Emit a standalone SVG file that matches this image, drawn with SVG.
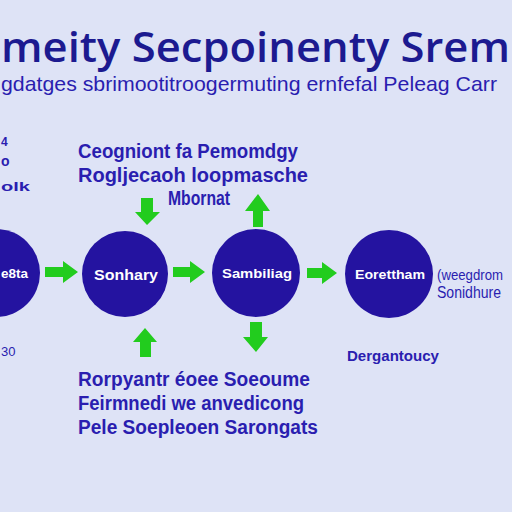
<svg xmlns="http://www.w3.org/2000/svg" width="512" height="512" viewBox="0 0 512 512">
<style>
.bg{fill:#dee3f6}
.t{font-family:"Liberation Sans",Arial,sans-serif;fill:#2a1eb0}
.title{font-family:"Open Sans","Noto Sans",sans-serif;font-weight:600;fill:#1c1a90}
.node{fill:#2413a0}
.nl{font-family:"Liberation Sans",Arial,sans-serif;font-weight:bold;fill:#ffffff}
.arr{fill:#22cc1e}
</style>
<rect class="bg" x="0" y="0" width="512" height="512"/>
<text class="title" x="1" y="62" font-size="42" textLength="509" lengthAdjust="spacingAndGlyphs">meity Secpoinenty Srem</text>
<text class="t" x="1" y="91" font-size="21" textLength="496" lengthAdjust="spacingAndGlyphs">gdatges sbrimootitroogermuting ernfefal Peleag Carr</text>
<text class="t" x="1" y="146" font-size="12" font-weight="bold">4</text>
<text class="t" x="1" y="166" font-size="14" font-weight="bold">o</text>
<text class="t" x="1" y="191" font-size="13" font-weight="bold" textLength="29" lengthAdjust="spacingAndGlyphs">olk</text>
<text class="t" x="78" y="158" font-size="20" font-weight="bold" textLength="220" lengthAdjust="spacingAndGlyphs">Ceogniont fa Pemomdgy</text>
<text class="t" x="78" y="182" font-size="20" font-weight="bold" textLength="230" lengthAdjust="spacingAndGlyphs">Rogljecaoh loopmasche</text>
<text class="t" x="168" y="205" font-size="20" font-weight="bold" textLength="62" lengthAdjust="spacingAndGlyphs">Mbornat</text>
<g id="connectors">
<path class="arr" d="M45,267 H63 V261 L78,272 L63,283 V277 H45 Z"/>
<path class="arr" d="M173,267 H190 V261 L205,272 L190,283 V277 H173 Z"/>
<path class="arr" d="M307,268 H322 V262 L337,273 L322,284 V278 H307 Z"/>
<path class="arr" d="M141,198 H153 V212 H160 L147,225 L135,212 H141 Z"/>
<path class="arr" d="M253,227 V211 H245 L258,194 L270,211 H263 V227 Z"/>
<path class="arr" d="M140,357 V342 H133 L145,328 L157,342 H151 V357 Z"/>
<path class="arr" d="M250,322 H262 V337 H268 L256,352 L243,337 H250 Z"/>
</g>
<g id="node1"><circle class="node" cx="-4" cy="273" r="44"/><text class="nl" x="1" y="278" font-size="13" textLength="27" lengthAdjust="spacingAndGlyphs">e8ta</text></g>
<g id="node2"><circle class="node" cx="125" cy="274" r="43"/><text class="nl" x="126" y="280" font-size="15" text-anchor="middle" textLength="64" lengthAdjust="spacingAndGlyphs">Sonhary</text></g>
<g id="node3"><circle class="node" cx="256" cy="273" r="44"/><text class="nl" x="257" y="278" font-size="12" text-anchor="middle" textLength="70" lengthAdjust="spacingAndGlyphs">Sambiliag</text></g>
<g id="node4"><circle class="node" cx="389" cy="274" r="44"/><text class="nl" x="390" y="279" font-size="13" text-anchor="middle" textLength="70" lengthAdjust="spacingAndGlyphs">Eorettham</text></g>
<text class="t" x="437" y="280" font-size="15" textLength="66" lengthAdjust="spacingAndGlyphs">(weegdrom</text>
<text class="t" x="437" y="298" font-size="16" textLength="64" lengthAdjust="spacingAndGlyphs">Sonidhure</text>
<text class="t" x="1" y="356" font-size="13">30</text>
<text class="t" x="347" y="361" font-size="14" font-weight="bold" textLength="92" lengthAdjust="spacingAndGlyphs">Dergantoucy</text>
<text class="t" x="78" y="386" font-size="20" font-weight="bold" textLength="232" lengthAdjust="spacingAndGlyphs">Rorpyantr éoee Soeoume</text>
<text class="t" x="78" y="410" font-size="20" font-weight="bold" textLength="226" lengthAdjust="spacingAndGlyphs">Feirmnedi we anvedicong</text>
<text class="t" x="78" y="434" font-size="20" font-weight="bold" textLength="240" lengthAdjust="spacingAndGlyphs">Pele Soepleoen Sarongats</text>
</svg>
